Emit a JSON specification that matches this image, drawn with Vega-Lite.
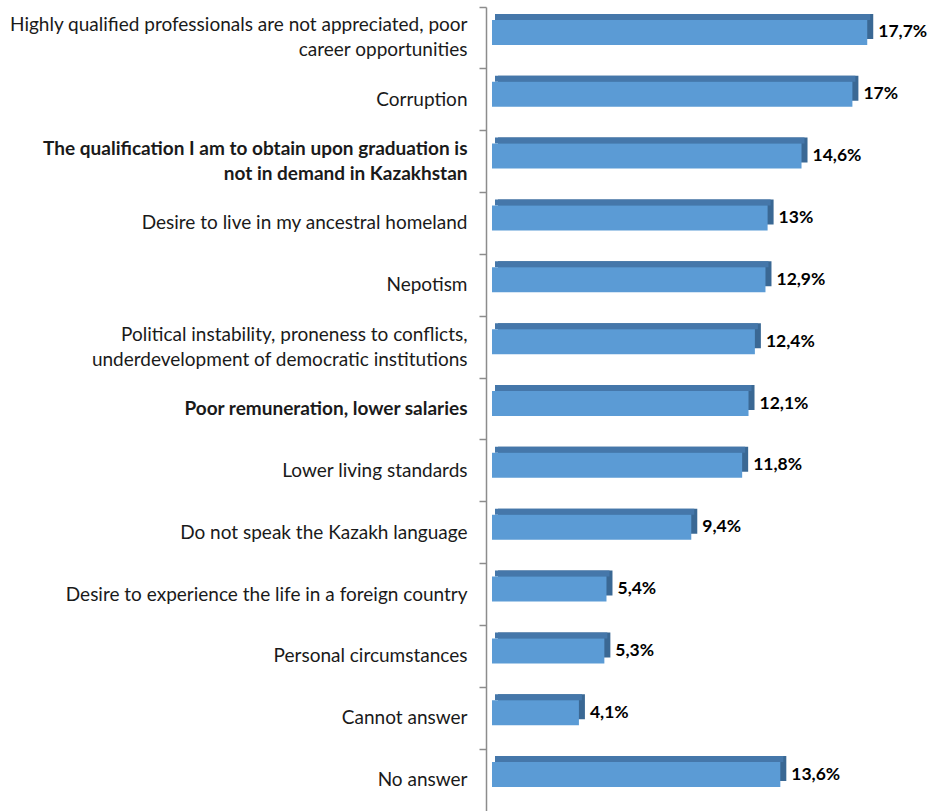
{
  "$schema": "https://vega.github.io/schema/vega-lite/v6.json",
  "width": 424,
  "height": 804,
  "autosize": {"type": "none"},
  "padding": {"left": 486, "top": 7, "right": 25, "bottom": 0},
  "background": "white",
  "config": {"view": {"stroke": null}},
  "data": {"values": [
    {"cat": "Highly qualified professionals are not appreciated, poor\ncareer opportunities", "value": 17.7, "label": "17,7%"},
    {"cat": "Corruption", "value": 17.0, "label": "17%"},
    {"cat": "The qualification I am to obtain upon graduation is\nnot in demand in Kazakhstan", "value": 14.6, "label": "14,6%"},
    {"cat": "Desire to live in my ancestral homeland", "value": 13.0, "label": "13%"},
    {"cat": "Nepotism", "value": 12.9, "label": "12,9%"},
    {"cat": "Political instability, proneness to conflicts,\nunderdevelopment of democratic institutions", "value": 12.4, "label": "12,4%"},
    {"cat": "Poor remuneration, lower salaries", "value": 12.1, "label": "12,1%"},
    {"cat": "Lower living standards", "value": 11.8, "label": "11,8%"},
    {"cat": "Do not speak the Kazakh language", "value": 9.4, "label": "9,4%"},
    {"cat": "Desire to experience the life in a foreign country", "value": 5.4, "label": "5,4%"},
    {"cat": "Personal circumstances", "value": 5.3, "label": "5,3%"},
    {"cat": "Cannot answer", "value": 4.1, "label": "4,1%"},
    {"cat": "No answer", "value": 13.6, "label": "13,6%"}
  ]},
  "encoding": {
    "y": {
      "field": "cat",
      "type": "nominal",
      "sort": null,
      "scale": {"paddingInner": 0, "paddingOuter": 0},
      "axis": {
        "title": null,
        "bandPosition": 0,
        "domainColor": "#8c8c8c",
        "domainWidth": 1.5,
        "tickColor": "#8c8c8c",
        "tickWidth": 1.5,
        "tickSize": 7,
        "labelPadding": 12,
        "labelFont": "Lato",
        "labelFontSize": 19,
        "labelColor": "#1a1a1a",
        "labelLimit": 480,
        "labelLineHeight": 25,
        "labelExpr": "split(datum.value, '\\n')",
        "labelOffset": {"condition": {"test": "indexof(datum.value, '\\n') >= 0", "value": -12.5}, "value": 0},
        "labelFontWeight": {"condition": {"test": "datum.value == 'Poor remuneration, lower salaries' || indexof(datum.value, 'The qualification') >= 0", "value": "bold"}, "value": "normal"}
      }
    },
    "x": {"field": "value", "type": "quantitative", "scale": {"domain": [0, 20]}, "axis": null}
  },
  "layer": [
    {"mark": {"type": "bar", "color": "#3a6894", "size": 25, "xOffset": 12, "yOffset": -11.5}},
    {"mark": {"type": "bar", "color": "#4577aa", "size": 6, "xOffset": 9, "yOffset": -21}},
    {"mark": {"type": "bar", "color": "#5b9bd5", "size": 25, "xOffset": 6, "yOffset": -5.5}},
    {"mark": {"type": "text", "align": "left", "baseline": "middle", "dx": 17, "yOffset": -5.5, "fontWeight": "bold", "fontSize": 17.5, "font": "Lato", "color": "#000000"},
     "encoding": {"text": {"field": "label"}}}
  ]
}
